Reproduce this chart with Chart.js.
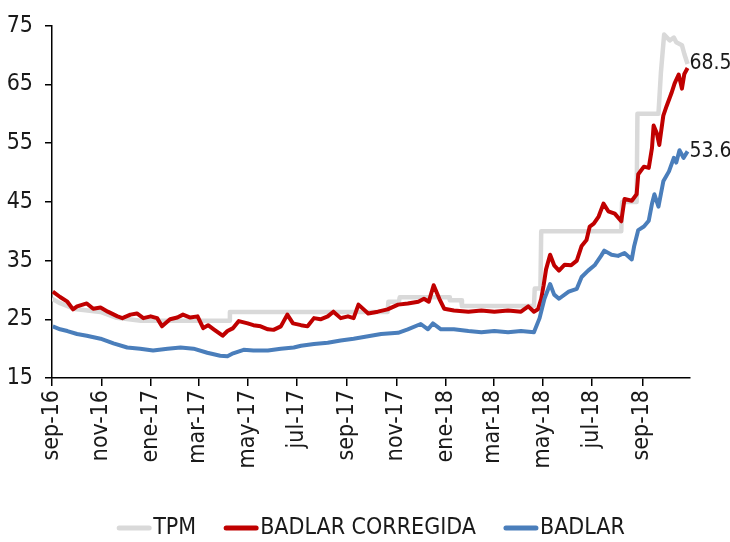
<!DOCTYPE html>
<html><head><meta charset="utf-8">
<script src="https://cdn.jsdelivr.net/npm/chart.js@4.4.1/dist/chart.umd.min.js"></script>
<style>html,body{margin:0;padding:0;background:#fff;} #c{display:block;}</style>
</head><body>
<canvas id="c" width="730" height="542"></canvas>
<script>
// Day offsets are counted from 1 Sep 2016
const BASE = Date.UTC(2016, 8, 1);
const dayOf = s => Math.round((Date.parse(s + 'T00:00:00Z') - BASE) / 86400000);

const tickDates = ['2016-09-01','2016-11-01','2017-01-01','2017-03-01','2017-05-01','2017-07-01','2017-09-01','2017-11-01','2018-01-01','2018-03-01','2018-05-01','2018-07-01','2018-09-01'];
const tickLabels = ['sep-16','nov-16','ene-17','mar-17','may-17','jul-17','sep-17','nov-17','ene-18','mar-18','may-18','jul-18','sep-18'];
const axisStart = '2016-09-01';
const axisEnd = '2018-10-30';

const yTicks = [15, 25, 35, 45, 55, 65, 75];

const tpmDays = [0,10,28,60,80,110,219,220,415,416,429,430,491,492,506,507,596,597,604,605,704,705,723,724,750,753,757,764,769,772,779,782,786];
const tpmValues = [28.5,27.75,26.75,26.25,25.25,24.75,24.75,26.25,26.25,28.0,28.0,28.75,28.75,28.25,28.25,27.25,27.25,30.25,30.25,40,40,45,45,60,60,67,73.5,72.5,73,72.2,71.7,70.2,68.5];

const corrDays = [1,10,19,26,31,43,51,60,69,81,87,97,105,113,122,130,136,146,155,162,171,180,187,193,200,211,217,224,231,242,249,258,267,274,283,291,298,308,316,324,332,341,348,357,366,373,379,391,403,415,428,440,453,460,466,472,479,485,497,515,531,547,564,580,589,596,601,605,608,611,616,621,627,634,642,649,655,661,665,670,676,682,688,696,704,708,717,723,725,732,738,742,744,748,751,756,760,766,770,775,779,782,786];
const corrValues = [29.7,28.8,28.0,26.7,27.2,27.7,26.8,27.0,26.3,25.5,25.2,25.8,26.0,25.2,25.5,25.2,23.8,25.0,25.3,25.8,25.3,25.5,23.5,24.0,23.3,22.2,23.0,23.5,24.7,24.3,24.0,23.8,23.3,23.2,23.8,25.8,24.3,24.0,23.8,25.2,25.0,25.5,26.3,25.2,25.5,25.2,27.5,26.0,26.3,26.7,27.5,27.7,28.0,28.5,28.0,30.8,28.5,26.8,26.5,26.3,26.5,26.3,26.5,26.3,27.2,26.3,26.7,28.5,30.8,33.5,36.0,34.2,33.3,34.3,34.2,35.0,37.5,38.5,40.8,41.3,42.5,44.7,43.4,43.0,41.7,45.5,45.2,46.3,49.7,51.0,50.8,54.2,58.0,56.7,54.7,59.7,61.3,63.5,65.2,66.7,64.3,66.8,67.8];

const badDays = [1,10,19,31,43,60,76,93,109,125,143,159,175,192,208,217,224,237,249,267,283,299,308,324,341,357,373,382,407,428,440,456,465,471,481,497,515,531,547,564,580,596,603,609,616,621,627,639,649,655,663,671,679,683,692,700,708,717,720,725,732,738,742,745,750,756,763,769,772,776,781,786];
const badValues = [23.8,23.3,23.0,22.5,22.2,21.7,20.9,20.2,20.0,19.7,20.0,20.2,20.0,19.3,18.8,18.7,19.2,19.8,19.7,19.7,20.0,20.2,20.5,20.8,21.0,21.4,21.7,21.9,22.5,22.7,23.3,24.2,23.3,24.3,23.3,23.3,23.0,22.8,23.0,22.8,23.0,22.8,25.2,28.5,31.0,29.2,28.5,29.7,30.2,32.2,33.3,34.2,35.8,36.7,36.0,35.8,36.3,35.2,37.5,40.2,40.8,41.8,44.7,46.3,44.2,48.5,50.2,52.5,51.7,53.8,52.5,53.6];

const seriesNames = ['TPM', 'BADLAR CORREGIDA', 'BADLAR'];
const endLabels = [null, '68.5', '53.6'];
const endLabelValues = [null, 68.5, 53.6];

const FONT = "'DejaVu Sans Condensed', 'DejaVu Sans', sans-serif";
const COLORS = ['#d9d9d9', '#c00000', '#4a7ebb'];
const TEXT = '#1a1a1a';

const toXY = (d, v) => d.map((x, i) => ({x: x, y: v[i]}));
const tickDays = tickDates.map(dayOf);

const extras = {
  id: 'extras',
  afterDraw(chart) {
    const ctx = chart.ctx;
    const xs = chart.scales.x, ys = chart.scales.y;
    ctx.save();
    // end labels
    ctx.font = '21px ' + FONT;
    ctx.fillStyle = TEXT;
    ctx.textBaseline = 'middle';
    ctx.textAlign = 'left';
    chart.data.datasets.forEach((ds, i) => {
      if (!endLabels[i]) return;
      const last = ds.data[ds.data.length - 1];
      ctx.fillText(endLabels[i], xs.getPixelForValue(last.x) + 2, ys.getPixelForValue(endLabelValues[i]));
    });
    // legend
    ctx.font = '23px ' + FONT;
    const box = 34, gapText = 2, gapItem = 28;
    const widths = seriesNames.map(n => ctx.measureText(n).width);
    let total = 0;
    widths.forEach((w, i) => { total += box + gapText + w + (i < widths.length - 1 ? gapItem : 0); });
    let x = (chart.chartArea.left + chart.chartArea.right) / 2 - total / 2;
    const y = 528;
    seriesNames.forEach((n, i) => {
      ctx.strokeStyle = COLORS[i];
      ctx.lineWidth = 5;
      ctx.lineCap = 'round';
      ctx.beginPath();
      ctx.moveTo(x + 2, y);
      ctx.lineTo(x + box - 2, y);
      ctx.stroke();
      ctx.fillStyle = TEXT;
      ctx.fillText(n, x + box + gapText, y);
      x += box + gapText + widths[i] + gapItem;
    });
    ctx.restore();
  }
};

new Chart(document.getElementById('c'), {
  type: 'line',
  data: {
    datasets: [
      {label: seriesNames[0], data: toXY(tpmDays, tpmValues), borderColor: COLORS[0], borderWidth: 4.5, pointRadius: 0, tension: 0, order: 3, borderJoinStyle: 'round'},
      {label: seriesNames[1], data: toXY(corrDays, corrValues), borderColor: COLORS[1], borderWidth: 4, pointRadius: 0, tension: 0, order: 2, borderJoinStyle: 'round'},
      {label: seriesNames[2], data: toXY(badDays, badValues), borderColor: COLORS[2], borderWidth: 4, pointRadius: 0, tension: 0, order: 1, borderJoinStyle: 'round'}
    ]
  },
  options: {
    responsive: false,
    animation: false,
    devicePixelRatio: 1,
    layout: {padding: {top: 18, right: 40, left: 0, bottom: 0}},
    plugins: {legend: {display: false}, tooltip: {enabled: false}},
    scales: {
      x: {
        type: 'linear',
        min: dayOf(axisStart),
        max: dayOf(axisEnd),
        afterBuildTicks: s => { s.ticks = tickDays.map(v => ({value: v})); },
        afterFit: s => { s.height = 164; },
        ticks: {
          autoSkip: false, maxRotation: 90, minRotation: 90, padding: 4,
          color: TEXT, font: {family: FONT, size: 23},
          callback: (v, i) => tickLabels[i]
        },
        grid: {display: true, drawOnChartArea: false, drawTicks: true, tickLength: 8, color: '#000', lineWidth: 1.5},
        border: {display: true, color: '#000', width: 1.5}
      },
      y: {
        min: yTicks[0],
        max: yTicks[yTicks.length - 1],
        afterBuildTicks: s => { s.ticks = yTicks.map(v => ({value: v})); },
        afterFit: s => { s.width = 52; },
        ticks: {padding: 12, color: TEXT, font: {family: FONT, size: 23}},
        grid: {display: true, drawOnChartArea: false, drawTicks: true, tickLength: 7, color: '#000', lineWidth: 1.5},
        border: {display: true, color: '#000', width: 1.5}
      }
    }
  },
  plugins: [extras]
});
</script>
</body></html>
